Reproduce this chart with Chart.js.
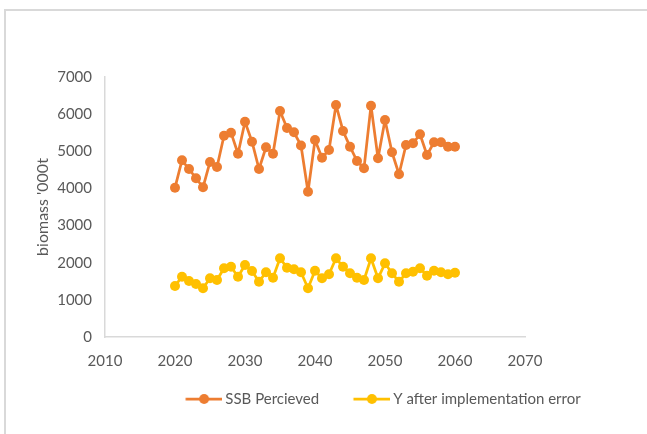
<!DOCTYPE html>
<html><head><meta charset="utf-8">
<script src="https://cdn.jsdelivr.net/npm/chart.js@4.4.0/dist/chart.umd.min.js"></script>
<style>
html,body{margin:0;padding:0;background:#fff;overflow:hidden;width:647px;height:434px;position:relative;}
#frame{position:absolute;left:4px;top:9px;width:800px;height:500px;border-top:2px solid #d9d9d9;border-left:2px solid #d9d9d9;box-sizing:border-box;}
#wrap{position:absolute;left:5px;top:10px;width:760px;height:430px;}
</style></head><body>
<div id="frame"></div>
<div id="wrap"><canvas id="c"></canvas></div>
<script>
const years = [2020,2021,2022,2023,2024,2025,2026,2027,2028,2029,2030,2031,2032,2033,2034,2035,2036,2037,2038,2039,2040,
               2041,2042,2043,2044,2045,2046,2047,2048,2049,2050,2051,2052,2053,2054,2055,2056,2057,2058,2059,2060];
const ssbPerceived = [4020,4758,4523,4273,4031,4712,4577,5420,5501,4935,5797,5258,4523,5108,4935,6085,5627,5512,5156,3912,5304,
                      4828,5035,6247,5547,5124,4739,4542,6228,4811,5843,4973,4381,5170,5215,5458,4900,5242,5242,5124,5124];
const yAfterError = [1373,1624,1508,1427,1311,1580,1535,1850,1893,1624,1939,1777,1489,1742,1597,2119,1866,1823,1742,1311,1785,
                     1580,1688,2119,1893,1715,1597,1535,2119,1580,1984,1715,1489,1715,1758,1850,1650,1785,1742,1688,1731];
const seriesNames = ['SSB Percieved','Y after implementation error'];
const xTicks = [2010,2020,2030,2040,2050,2060,2070];
const yTicks = [0,1000,2000,3000,4000,5000,6000,7000];
const yTitle = "biomass '000t";

const colors = ['#ED7D31','#FFC000'];
const textColor = '#595959';
const FONT = 'Lato';

// legend icon: transparent lead-in margin, then line with a dot
const ICON_LEAD = 28.5, ICON_LINE = 37;
function legendIcon(color){
  const c = document.createElement('canvas');
  c.width = ICON_LEAD + ICON_LINE; c.height = 12;
  const g = c.getContext('2d');
  g.strokeStyle = color; g.lineWidth = 2.75;
  g.beginPath(); g.moveTo(ICON_LEAD,6); g.lineTo(ICON_LEAD+ICON_LINE,6); g.stroke();
  g.fillStyle = color; g.beginPath(); g.arc(ICON_LEAD+ICON_LINE/2,6,5,0,Math.PI*2); g.fill();
  return c;
}
const icons = colors.map(legendIcon);

const allSeries = [ssbPerceived, yAfterError];
const datasets = allSeries.map((vals,i)=>({
  label: seriesNames[i],
  data: years.map((yr,k)=>({x:yr,y:vals[k]})),
  borderColor: colors[i],
  backgroundColor: colors[i],
  borderWidth: 2.75,
  borderJoinStyle: 'round',
  borderCapStyle: 'round',
  pointRadius: 5,
  pointHoverRadius: 5,
  pointBorderWidth: 0,
  pointBackgroundColor: colors[i],
  tension: 0,
  yAxisID: 'y'
}));

new Chart(document.getElementById('c'), {
  type: 'line',
  data: { datasets },
  options: {
    responsive: true,
    maintainAspectRatio: false,
    animation: false,
    layout: { padding: { left: 28, right: 56, top: 67, bottom: 23.5 } },
    plugins: {
      tooltip: { enabled: false },
      legend: {
        position: 'bottom',
        labels: {
          usePointStyle: true,
          pointStyleWidth: ICON_LEAD + 28,
          padding: 10,
          color: textColor,
          font: { family: FONT, size: 15 },
          generateLabels: (chart) => chart.data.datasets.map((ds,i)=>({
            text: ds.label, pointStyle: icons[i], fillStyle: colors[i], strokeStyle: colors[i],
            lineWidth: 0, hidden: false, datasetIndex: i, fontColor: textColor
          }))
        }
      }
    },
    scales: {
      x: {
        type: 'linear', min: xTicks[0], max: xTicks[xTicks.length-1],
        afterBuildTicks: (s)=>{ s.ticks = xTicks.map(v=>({value:v})); },
        grid: { display: false, drawTicks: false },
        border: { display: true, color: '#d9d9d9', width: 1.5 },
        ticks: { color: textColor, font: { family: FONT, size: 15 }, padding: 15, maxRotation: 0, callback: v=>String(v) },
        afterFit: (s)=>{ s.height = 44.5; }
      },
      y: {
        type: 'linear', min: yTicks[0], max: yTicks[yTicks.length-1], position: 'left',
        afterBuildTicks: (s)=>{ s.ticks = yTicks.map(v=>({value:v})); },
        grid: { display: false, drawTicks: false },
        border: { display: true, color: '#d9d9d9', width: 1.5 },
        ticks: { color: textColor, font: { family: FONT, size: 15 }, padding: 13, callback: v=>String(v) },
        title: { display: true, text: yTitle, color: textColor, font: { family: FONT, size: 16 }, padding: 0 },
        afterFit: (s)=>{ s.width = 72; }
      },
      y2: {
        type: 'linear', min: 0, max: 1, position: 'right', display: true,
        grid: { display: false, drawTicks: false },
        border: { display: false },
        ticks: { display: false },
        afterFit: (s)=>{ s.width = 184; }
      }
    }
  }
});
</script>
</body></html>
